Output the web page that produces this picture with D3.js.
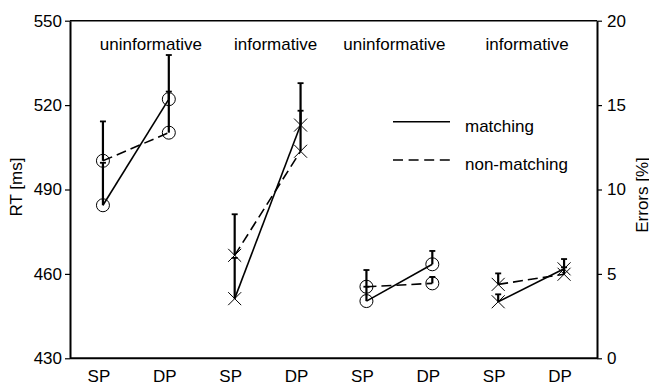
<!DOCTYPE html>
<html>
<head>
<meta charset="utf-8">
<title>RT and errors</title>
<style>
  body { margin: 0; background: #fff; }
  svg text { font-family: Arial, "Liberation Sans", sans-serif; fill: #000; }
</style>
</head>
<body>
<svg id="chart"></svg>
<script src="https://cdn.jsdelivr.net/npm/d3@7"></script>
<script>
// conditions along the x axis
var groups = ["uninformative", "informative", "uninformative", "informative"];
var conditions = ["SP", "DP"];
var markers = ["circle", "cross", "circle", "cross"];

// reaction times (ms) for the first two groups, SP then DP
var rtMatching = [484.4, 522.1, 451.2, 512.9];
var rtMatchingErr = [15.1, 15.7, 14.5, 14.9];
var rtNonMatching = [500.2, 510.2, 466.6, 503.6];
var rtNonMatchingErr = [14.0, 14.6, 14.6, 14.4];

// error rates (%) for the last two groups, SP then DP
var errMatching = [3.39, 5.57, 3.35, 5.30];
var errMatchingErr = [0.85, 0.79, 0.44, 0.58];
var errNonMatching = [4.24, 4.44, 4.38, 4.98];
var errNonMatchingErr = [0.99, 0.38, 0.65, 0.41];

var rtTicks = [430, 460, 490, 520, 550];
var errTicks = [0, 5, 10, 15, 20];

var width = 649, height = 383;
var mLeft = 70, mRight = 597, mTop = 20.7, mBottom = 358.3;

var svg = d3.select('#chart')
    .attr('width', width)
    .attr('height', height);

var x = d3.scalePoint()
    .domain(d3.range(groups.length * conditions.length))
    .range([mLeft, mRight])
    .padding(0.5);
var yRT = d3.scaleLinear().domain([430, 550]).range([mBottom, mTop]);
var yErr = d3.scaleLinear().domain([0, 20]).range([mBottom, mTop]);

// frame
svg.append('line').attr('x1', mLeft).attr('x2', mRight).attr('y1', mTop).attr('y2', mTop)
    .attr('stroke', '#000').attr('stroke-width', 1.6);
svg.append('line').attr('x1', mLeft).attr('x2', mRight).attr('y1', mBottom).attr('y2', mBottom)
    .attr('stroke', '#000').attr('stroke-width', 2);

var axL = svg.append('g')
    .attr('transform', 'translate(' + mLeft + ',0)')
    .call(d3.axisLeft(yRT).tickValues(rtTicks).tickSizeInner(5).tickSizeOuter(0).tickPadding(3));
var axR = svg.append('g')
    .attr('transform', 'translate(' + mRight + ',0)')
    .call(d3.axisRight(yErr).tickValues(errTicks).tickSizeInner(5).tickSizeOuter(0).tickPadding(5));
[axL, axR].forEach(function(ax) {
    ax.select('.domain').attr('stroke-width', 2);
    ax.selectAll('.tick line').attr('stroke-width', 1.2);
    ax.selectAll('.tick text').attr('font-size', 17)
        .attr('font-family', 'Arial, "Liberation Sans", sans-serif');
});

// axis titles
svg.append('text')
    .attr('transform', 'translate(22,187) rotate(-90)')
    .attr('text-anchor', 'middle')
    .attr('font-size', 17)
    .text('RT [ms]');
svg.append('text')
    .attr('transform', 'translate(648,195) rotate(-90)')
    .attr('text-anchor', 'middle')
    .attr('font-size', 17)
    .text('Errors [%]');

// x labels
svg.selectAll('.xlab')
    .data(d3.range(groups.length * conditions.length))
    .enter().append('text')
    .attr('class', 'xlab')
    .attr('x', function(i) { return x(i) - 4; })
    .attr('y', 382)
    .attr('text-anchor', 'middle')
    .attr('font-size', 17)
    .text(function(i) { return conditions[i % 2]; });

// group labels
var nudge = [15, 8, -5, -4];
svg.selectAll('.glab')
    .data(groups)
    .enter().append('text')
    .attr('class', 'glab')
    .attr('x', function(d, g) { return (x(2 * g) + x(2 * g + 1)) / 2 + nudge[g]; })
    .attr('y', 50)
    .attr('text-anchor', 'middle')
    .attr('font-size', 17)
    .text(function(d) { return d; });

// build series per group
function series(g) {
    var rt = g < 2;
    var k = rt ? g * 2 : (g - 2) * 2;
    var y = rt ? yRT : yErr;
    var m = rt ? rtMatching : errMatching, me = rt ? rtMatchingErr : errMatchingErr;
    var n = rt ? rtNonMatching : errNonMatching, ne = rt ? rtNonMatchingErr : errNonMatchingErr;
    return [
        { dash: null, y: y, marker: markers[g], pts: [0, 1].map(function(c) {
            return { x: x(2 * g + c), v: m[k + c], e: me[k + c] }; }) },
        { dash: '10,5', y: y, marker: markers[g], pts: [0, 1].map(function(c) {
            return { x: x(2 * g + c), v: n[k + c], e: ne[k + c] }; }) }
    ];
}

var all = [];
groups.forEach(function(d, g) { all = all.concat(series(g)); });

var plot = svg.append('g');

// error bars (upward)
all.forEach(function(s) {
    s.pts.forEach(function(p) {
        plot.append('line')
            .attr('x1', p.x).attr('x2', p.x)
            .attr('y1', s.y(p.v)).attr('y2', s.y(p.v + p.e))
            .attr('stroke', '#000').attr('stroke-width', 2.2);
        plot.append('line')
            .attr('x1', p.x - 3).attr('x2', p.x + 3)
            .attr('y1', s.y(p.v + p.e)).attr('y2', s.y(p.v + p.e))
            .attr('stroke', '#000').attr('stroke-width', 1.8);
    });
});

// lines
all.forEach(function(s) {
    plot.append('path')
        .datum(s.pts)
        .attr('d', d3.line().x(function(p) { return p.x; }).y(function(p) { return s.y(p.v); }))
        .attr('fill', 'none')
        .attr('stroke', '#000')
        .attr('stroke-width', 1.6)
        .attr('stroke-dasharray', s.dash);
});

// markers
all.forEach(function(s) {
    s.pts.forEach(function(p) {
        var cx = p.x, cy = s.y(p.v);
        if (s.marker === 'circle') {
            plot.append('circle')
                .attr('cx', cx).attr('cy', cy).attr('r', 6.5)
                .attr('fill', 'none').attr('stroke', '#000').attr('stroke-width', 1);
        } else {
            var r = 6.5;
            plot.append('path')
                .attr('d', 'M' + (cx - r) + ',' + (cy - r) + 'L' + (cx + r) + ',' + (cy + r) +
                    'M' + (cx - r) + ',' + (cy + r) + 'L' + (cx + r) + ',' + (cy - r))
                .attr('stroke', '#000').attr('stroke-width', 1);
        }
    });
});

// legend
var legend = svg.append('g');
legend.append('line').attr('x1', 393).attr('x2', 450).attr('y1', 121.7).attr('y2', 121.7)
    .attr('stroke', '#000').attr('stroke-width', 1.6);
legend.append('text').attr('x', 465).attr('y', 132).attr('font-size', 17).text('matching');
legend.append('line').attr('x1', 393).attr('x2', 450).attr('y1', 160).attr('y2', 160)
    .attr('stroke', '#000').attr('stroke-width', 1.6).attr('stroke-dasharray', '10,5.6');
legend.append('text').attr('x', 465).attr('y', 170).attr('font-size', 17).text('non-matching');
</script>
</body>
</html>
